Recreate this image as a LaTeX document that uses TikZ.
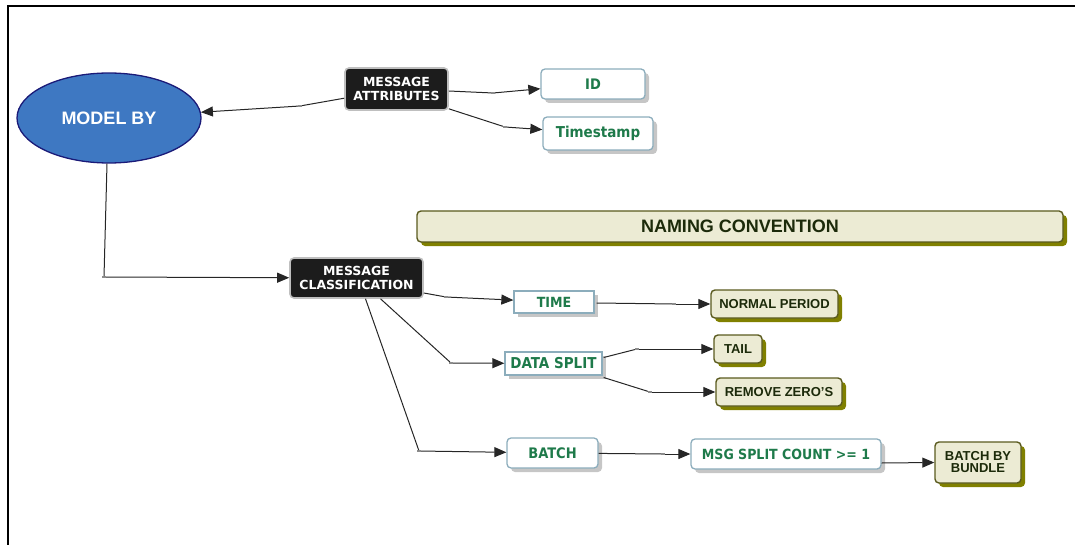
\documentclass[tikz,border=0pt]{standalone}
\usepackage{fontspec}
\setmainfont{Liberation Sans}
\newfontfamily\labelfont{DejaVu Sans Condensed}
\newfontfamily\darkfont{DejaVu Sans}
\usetikzlibrary{arrows.meta,shapes.geometric,shadows}
\definecolor{ovalblue}{HTML}{3E78C2}
\definecolor{ovaledge}{HTML}{1A1A78}
\definecolor{conceptgreen}{HTML}{1E7A4A}
\definecolor{paleedge}{HTML}{8CADBC}
\definecolor{greyshadow}{HTML}{C6C6C6}
\definecolor{creamfill}{HTML}{ECEBD4}
\definecolor{oliveedge}{HTML}{5A5A1E}
\definecolor{oliveshadow}{HTML}{808000}
\definecolor{olivetext}{HTML}{1C2A0A}
\definecolor{blackbox}{HTML}{1C1C1C}
\tikzset{
  x=1pt, y=-1pt,
  oval/.style={ellipse, draw=ovaledge, line width=1.3pt, fill=ovalblue, inner sep=0pt,
    text=white, font=\bfseries\fontsize{18}{20}\selectfont},
  darkbox/.style={rectangle, rounded corners=4pt, draw=black!25, line width=1.6pt, fill=blackbox,
    text=white, align=center, inner sep=0pt, font=\darkfont\bfseries\fontsize{12.5}{14.5}\selectfont},
  palebox/.style={rectangle, draw=paleedge, line width=1.3pt, fill=white, inner sep=0pt,
    text=conceptgreen, font=\labelfont\bfseries,
    drop shadow={shadow xshift=4pt, shadow yshift=-4pt, fill=greyshadow, opacity=1}},
  palerounded/.style={palebox, rounded corners=4pt},
  olivebox/.style={rectangle, rounded corners=4pt, draw=oliveedge, line width=1.4pt, fill=creamfill,
    text=olivetext, align=center, inner sep=0pt, font=\bfseries\fontsize{13}{13}\selectfont,
    drop shadow={shadow xshift=4pt, shadow yshift=-4pt, fill=oliveshadow, opacity=1}},
  joint/.style={rectangle, fill=black!45, inner sep=0pt, minimum width=4pt, minimum height=1.6pt},
  link/.style={draw=black!85, line width=1pt},
  arrowlink/.style={link, -{Triangle[length=12pt,width=10pt]}},
}
\begin{document}
\begin{tikzpicture}
\useasboundingbox (0,0) rectangle (1075,545);
% frame
\draw[line width=1.4pt] (1075,6) -- (8,6) -- (8,545);

% concepts
\node[oval, minimum width=184pt, minimum height=90pt] (model) at (109,118) {\raisebox{-2pt}{MODEL BY}};
\node[darkbox, minimum width=103pt, minimum height=42pt] (attr) at (396.5,89) {MESSAGE\\ATTRIBUTES};
\node[palerounded, minimum width=104pt, minimum height=30pt, font=\labelfont\bfseries\fontsize{14.5}{14.5}\selectfont] (id) at (593,84) {ID};
\node[palerounded, minimum width=110pt, minimum height=33pt, font=\labelfont\bfseries\fontsize{15}{15}\selectfont] (ts) at (598,133.5) {Timestamp};
\node[darkbox, minimum width=133pt, minimum height=40pt] (cls) at (356.5,278) {MESSAGE\\CLASSIFICATION};
\node[olivebox, minimum width=646pt, minimum height=31pt, font=\bfseries\fontsize{18}{18}\selectfont] (naming) at (740,226.5) {NAMING CONVENTION};
\node[palebox, minimum width=80pt, minimum height=22pt, font=\labelfont\bfseries\fontsize{14}{14}\selectfont] (time) at (554,302) {TIME};
\node[olivebox, minimum width=127pt, minimum height=28pt] (normal) at (774.5,304) {NORMAL PERIOD};
\node[palebox, minimum width=97pt, minimum height=23pt, font=\labelfont\bfseries\fontsize{15}{15}\selectfont] (split) at (553.5,363.5) {DATA SPLIT};
\node[olivebox, minimum width=48pt, minimum height=28pt] (tail) at (738,349) {TAIL};
\node[olivebox, minimum width=126pt, minimum height=28pt] (zeros) at (779,392) {REMOVE ZERO'S};
\node[palerounded, minimum width=91pt, minimum height=30pt, font=\labelfont\bfseries\fontsize{14.5}{14.5}\selectfont] (batch) at (552.5,453) {BATCH};
\node[palerounded, minimum width=190pt, minimum height=30pt, font=\labelfont\bfseries\fontsize{14}{14}\selectfont] (count) at (786,454) {MSG SPLIT COUNT >= 1};
\node[olivebox, minimum width=86pt, minimum height=41pt, font=\bfseries\fontsize{13}{12}\selectfont] (bundle) at (978,462.5) {BATCH BY\\BUNDLE};

% link joints
\node[joint] (j1) at (300,106) {};
\node[joint] (j2) at (104,277) {};
\node[joint] (j3) at (493,93) {};
\node[joint] (j4) at (505,127) {};
\node[joint] (j5) at (446,297) {};
\node[joint] (j6) at (451,363) {};
\node[joint] (j7) at (419,451) {};
\node[joint] (j8) at (674,304) {};
\node[joint] (j9) at (637,349) {};
\node[joint] (j10) at (650,392) {};
\node[joint] (j11) at (663,454) {};

% links
\draw[link] (attr) -- (j1);
\draw[arrowlink] (j1) -- (model);
\draw[link] (model.south) ++(-2,0) -- (j2);
\draw[arrowlink] (j2) -- (cls);
\draw[link] (attr.east) ++(0,2) -- (j3);
\draw[arrowlink] (j3) -- (id);
\draw[link] (attr.south east) ++(0,-2) -- (j4);
\draw[arrowlink] (j4) -- (ts);
\draw[link] (cls.east) ++(0,15) -- (j5);
\draw[arrowlink] (j5) -- (time);
\draw[link] (cls.south) ++(24,0) -- (j6);
\draw[arrowlink] (j6) -- (split);
\draw[link] (cls.south) ++(9,0) -- (j7);
\draw[arrowlink] (j7) -- (batch);
\draw[link] (time.east) ++(2,1) -- (j8);
\draw[arrowlink] (j8) -- (normal);
\draw[link] (split.east) ++(1,-6) -- (j9);
\draw[arrowlink] (j9) -- (tail);
\draw[link] (split.east) ++(1,14) -- (j10);
\draw[arrowlink] (j10) -- (zeros);
\draw[link] (batch) -- (j11);
\draw[arrowlink] (j11) -- (count);
\draw[arrowlink] (count.east) ++(0,9) -- (bundle.west);
\end{tikzpicture}
\end{document}
